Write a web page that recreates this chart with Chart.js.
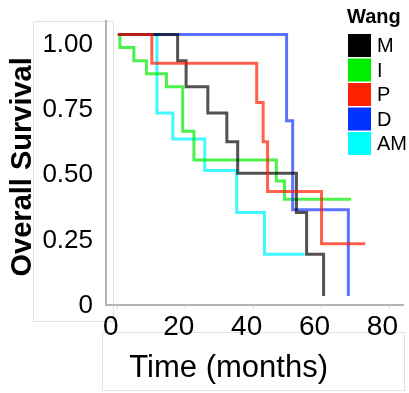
<!DOCTYPE html>
<html>
<head>
<meta charset="utf-8">
<script src="https://cdn.jsdelivr.net/npm/chart.js@4/dist/chart.umd.min.js"></script>
<style>
  html, body { margin: 0; padding: 0; background: #fff; }
</style>
</head>
<body>
<canvas id="kmChart" width="409" height="393"></canvas>
<script>
// Kaplan-Meier curves
var legendTitle = "Wang";
var groups = ["M", "I", "P", "D", "AM"];

var mTime  = [0, 17.6, 20.1, 26.5, 32.1, 35.3, 52.6, 55.6, 60.6];
var mSurv  = [1, 0.90, 0.80, 0.70, 0.59, 0.47, 0.32, 0.16, 0];

var iTime  = [0, 0.6, 4.7, 8.4, 14.3, 19.1, 22.4, 46.7, 49.1, 68.7];
var iSurv  = [1, 0.95, 0.90, 0.85, 0.80, 0.63, 0.52, 0.44, 0.37, 0.37];

var pTime  = [0, 10, 40.9, 42.8, 44.1, 60, 72.9];
var pSurv  = [1, 0.89, 0.74, 0.59, 0.40, 0.20, 0.20];

var dTime  = [0, 49.7, 51.5, 67.9];
var dSurv  = [1, 0.67, 0.33, 0];

var amTime = [0, 11.5, 16.2, 25.6, 35.0, 43.2, 55.0];
var amSurv = [1, 0.70, 0.60, 0.48, 0.32, 0.16, 0.16];

var xTicks = [0, 20, 40, 60, 80];
var yTicks = [0, 0.25, 0.5, 0.75, 1];

function pts(t, s) {
  return t.map(function (v, k) { return { x: v, y: s[k] }; });
}

var FONT = '"Liberation Sans", Arial, sans-serif';

function kmSet(label, t, s, line, swatch, order) {
  return {
    label: label,
    data: pts(t, s),
    borderColor: line,
    backgroundColor: swatch,
    swatch: swatch,
    borderWidth: 3,
    pointRadius: 0,
    stepped: 'before',   // horizontal first, then the drop
    fill: false,
    order: order
  };
}

// legend drawn on top of the plot, like the figure
var wangLegend = {
  id: 'wangLegend',
  beforeDraw: function (chart) {
    var ctx = chart.ctx;
    ctx.save();
    ctx.strokeStyle = '#e2e2e2';
    ctx.lineWidth = 1;
    ctx.strokeRect(33.5, 21.5, 80, 300);
    ctx.strokeRect(102.5, 332.5, 302, 58);
    ctx.restore();
  },
  afterDraw: function (chart) {
    var ctx = chart.ctx;
    ctx.save();
    ctx.textBaseline = 'middle';
    ctx.fillStyle = '#000';
    ctx.font = 'bold 20px ' + FONT;
    ctx.fillText(legendTitle, 347, 17);
    ctx.font = '20px ' + FONT;
    chart.data.datasets.forEach(function (ds, i) {
      var top = 34 + i * 24.5;
      ctx.fillStyle = ds.swatch;
      ctx.fillRect(348, top, 23, 23);
      ctx.fillStyle = '#000';
      ctx.fillText(ds.label, 377, top + 12.5);
    });
    ctx.restore();
  }
};

new Chart(document.getElementById("kmChart"), {
  type: 'line',
  data: {
    datasets: [
      kmSet(groups[0], mTime, mSurv, 'rgba(0,0,0,0.68)', '#000000', 1),
      kmSet(groups[1], iTime, iSurv, 'rgba(0,235,0,0.7)', '#00ee00', 3),
      kmSet(groups[2], pTime, pSurv, 'rgba(255,30,0,0.7)', '#ff2200', 0),
      kmSet(groups[3], dTime, dSurv, 'rgba(0,40,255,0.65)', '#0033ff', 2),
      kmSet(groups[4], amTime, amSurv, 'rgba(0,245,255,0.75)', '#00ffff', 4)
    ]
  },
  options: {
    responsive: false,
    animation: false,
    devicePixelRatio: 1,
    layout: { padding: { top: 20, right: 6, left: 0, bottom: 0 } },
    plugins: {
      legend: { display: false },
      tooltip: { enabled: false }
    },
    scales: {
      x: {
        type: 'linear',
        min: -3.5,
        max: 84,
        afterFit: function (scale) { scale.height = 88; },
        afterBuildTicks: function (scale) {
          scale.ticks = xTicks.map(function (v) { return { value: v }; });
        },
        grid: { drawOnChartArea: false, drawTicks: true, tickLength: 4, color: '#d8d8d8' },
        border: { display: true, color: '#b4b4b4', width: 2 },
        ticks: {
          color: '#000',
          font: { family: FONT, size: 28 },
          padding: 1,
          labelOffset: -7,
          maxRotation: 0,
          autoSkip: false
        },
        title: {
          display: true,
          text: 'Time (months)      ',
          color: '#000',
          font: { family: FONT, size: 31 },
          padding: { top: 0, bottom: 6 }
        }
      },
      y: {
        min: -0.034,
        max: 1.053,
        afterFit: function (scale) { scale.width = 106; },
        afterBuildTicks: function (scale) {
          scale.ticks = yTicks.map(function (v) { return { value: v }; });
        },
        grid: { display: false },
        border: { display: true, color: '#b4b4b4', width: 2 },
        ticks: {
          color: '#000',
          font: { family: FONT, size: 26 },
          padding: 5,
          labelOffset: 10,
          callback: function (v) { return v === 0 ? '0' : v.toFixed(2); }
        },
        title: {
          display: true,
          text: 'Overall Survival ',
          color: '#000',
          font: { family: FONT, size: 29, weight: 'bold' },
          padding: { top: 6, bottom: 0 }
        }
      }
    }
  },
  plugins: [wangLegend]
});
</script>
</body>
</html>
